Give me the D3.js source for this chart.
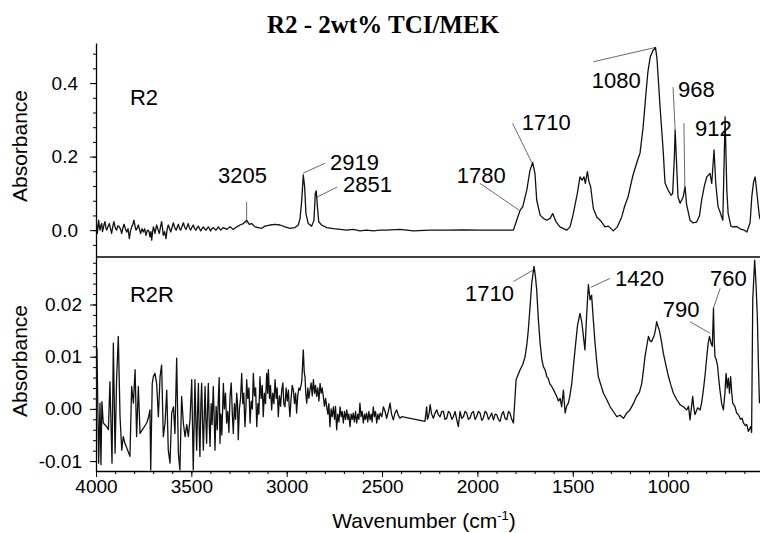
<!DOCTYPE html>
<html><head><meta charset="utf-8">
<script src="https://cdn.jsdelivr.net/npm/d3@7"></script>
<style>body{margin:0;background:#fff}</style>
</head><body>
<svg id="chart" width="760" height="533"></svg>
<script>
const title = "R2 - 2wt% TCI/MEK";
const panelNames = ["R2", "R2R"];
const xTickValues = [4000, 3500, 3000, 2500, 2000, 1500, 1000];
const r2TickValues = [0.0, 0.2, 0.4];
const r2rTickValues = [-0.01, 0.0, 0.01, 0.02];

// R2 spectrum: [wavenumber, absorbance]
const r2Spectrum = [[4000,0.032],[3996,0.010],[3993,-0.009],[3989,0.012],[3986,0.027],[3982,0.008],[3979,0],[3975,0.012],[3970,0.018],[3966,-0.004],[3962,0.005],[3958,0.015],[3953,0.023],[3948,0.006],[3944,0],[3937,0.010],[3930,0.018],[3924,0.004],[3918,-0.009],[3912,0.010],[3906,0.023],[3899,0.006],[3892,0],[3885,0.012],[3878,0.009],[3871,0.002],[3865,-0.009],[3859,0.006],[3853,0.016],[3846,0.004],[3839,-0.005],[3832,0.004],[3825,-0.023],[3819,-0.002],[3813,0.009],[3807,0.015],[3801,0.027],[3795,0.010],[3790,0],[3784,0.006],[3778,0.014],[3772,0.002],[3766,-0.009],[3759,0.004],[3752,-0.005],[3745,0.004],[3738,-0.014],[3732,-0.002],[3726,0],[3721,-0.006],[3717,-0.018],[3712,-0.004],[3708,-0.027],[3703,-0.004],[3699,0.009],[3695,0.002],[3691,-0.009],[3686,0.004],[3682,0.014],[3675,0.002],[3668,-0.009],[3662,0.008],[3656,0.023],[3651,0.004],[3647,-0.014],[3640,-0.004],[3633,-0.023],[3627,0.002],[3621,0.014],[3614,0.004],[3608,-0.005],[3601,0.008],[3594,0.02],[3587,0.006],[3580,0],[3574,0.008],[3568,0.016],[3562,0.004],[3556,0],[3549,0.010],[3542,0.02],[3535,0.008],[3528,0.002],[3522,0.010],[3516,0.018],[3510,0.006],[3504,0],[3497,0.008],[3490,0.014],[3483,0.004],[3476,0],[3470,0.006],[3463,0.011],[3457,0.004],[3451,-0.002],[3444,0.004],[3437,0.009],[3430,0.003],[3423,0],[3417,0.005],[3411,0.009],[3405,0.004],[3399,-0.002],[3392,0.004],[3385,0.007],[3378,0.003],[3371,0],[3364,0.005],[3358,0.009],[3352,0.004],[3346,0],[3339,0.004],[3332,0.007],[3315,0.002],[3297,0.009],[3280,0.002],[3262,0.009],[3245,0.014],[3227,0.018],[3210,0.027],[3196,0.016],[3184,0.018],[3166,0.009],[3149,0.007],[3131,0.005],[3114,0.011],[3088,0.014],[3061,0.016],[3035,0.014],[3009,0.009],[2983,0.005],[2956,0.007],[2939,0.014],[2930,0.032],[2921,0.082],[2913,0.150],[2906,0.118],[2899,0.045],[2887,0.018],[2869,0.011],[2857,0.027],[2850,0.100],[2845,0.107],[2839,0.064],[2832,0.023],[2817,0.014],[2790,0.007],[2755,0.004],[2720,0.002],[2685,0],[2651,0.002],[2616,-0.002],[2581,0],[2546,-0.002],[2511,0],[2476,0],[2406,0.002],[2336,-0.002],[2248,0],[2161,0],[2073,0.001],[1986,0],[1899,0],[1811,0],[1794,0.027],[1776,0.054],[1762,0.064],[1741,0.109],[1724,0.163],[1710,0.184],[1698,0.154],[1689,0.082],[1671,0.041],[1654,0.032],[1636,0.027],[1619,0.032],[1605,0.045],[1588,0.023],[1567,0.009],[1532,0],[1514,0.009],[1497,0.045],[1476,0.100],[1462,0.145],[1451,0.136],[1441,0.145],[1434,0.127],[1423,0.159],[1415,0.132],[1406,0.118],[1392,0.059],[1374,0.036],[1353,0.025],[1331,0.009],[1313,0.011],[1287,-0.002],[1266,0.009],[1243,0.036],[1228,0.065],[1210,0.09],[1184,0.15],[1160,0.19],[1147,0.21],[1131,0.28],[1118,0.36],[1106,0.43],[1094,0.47],[1080,0.488],[1066,0.497],[1058,0.465],[1042,0.335],[1026,0.218],[1016,0.128],[1000,0.109],[984,0.095],[976,0.1],[967,0.2],[963,0.272],[957,0.2],[948,0.09],[937,0.073],[921,0.09],[911,0.118],[903,0.07],[885,0.027],[870,0.02],[850,0.022],[835,0.04],[824,0.082],[810,0.12],[797,0.145],[780,0.154],[771,0.127],[759,0.218],[750,0.127],[738,0.064],[728,0.05],[713,0.027],[701,0.308],[692,0.109],[685,0.045],[670,0.01],[659,0.009],[640,0.01],[620,0.003],[600,0.0],[587,-0.005],[570,0.02],[561,0.091],[552,0.13],[544,0.145],[538,0.12],[530,0.08],[523,0.045],[518,0.03]];

// R2R spectrum: [wavenumber, absorbance]
const r2rSpectrum = [[4000,-0.0027],[3995,0.0116],[3986,-0.0104],[3979,0.0011],[3974,-0.0107],[3969,0.0014],[3962,-0.0027],[3944,-0.0034],[3935,-0.004],[3927,0.0052],[3916,-0.0104],[3909,0.0126],[3900,-0.0085],[3892,0.0056],[3883,0.0139],[3874,-0.0015],[3865,-0.0079],[3857,-0.0053],[3848,-0.0066],[3822,-0.0091],[3813,0.0043],[3804,0.0011],[3795,0.0075],[3787,-0.0053],[3778,0.0043],[3769,-0.0047],[3734,-0.0027],[3726,-0.0018],[3717,-0.0002],[3713,-0.0117],[3705,0.0049],[3699,0.0062],[3691,0.0068],[3682,0.0049],[3673,-0.0015],[3664,0.0062],[3656,0.0084],[3647,-0.0053],[3638,-0.0027],[3629,0.0036],[3621,-0.0079],[3612,-0.0104],[3603,-0.0008],[3594,0.0004],[3586,-0.0047],[3577,0.0097],[3568,-0.0085],[3560,-0.0117],[3551,0.0024],[3542,-0.0027],[3533,-0.0053],[3524,-0.0030],[3516,-0.0053],[3507,-0.0020],[3498,0.0056],[3490,-0.0117],[3481,0.0056],[3476,-0.0030],[3472,-0.0079],[3467,0.0000],[3463,0.0049],[3459,-0.0040],[3455,-0.0091],[3450,0.0010],[3446,0.0049],[3441,-0.0030],[3437,-0.0079],[3432,-0.0010],[3428,0.0043],[3424,-0.0020],[3420,-0.0066],[3415,0.0000],[3411,0.0049],[3406,-0.0030],[3402,-0.0072],[3396,0.0010],[3391,-0.0030],[3385,0.0043],[3380,-0.0020],[3376,-0.0079],[3370,0.0005],[3364,-0.0040],[3358,0.0024],[3354,0.0060],[3350,-0.0066],[3345,-0.0010],[3340,-0.0050],[3332,0.0049],[3327,0.0000],[3321,0.0030],[3315,-0.0027],[3309,-0.0005],[3303,-0.0045],[3297,0.0024],[3291,0.0050],[3285,-0.0010],[3280,-0.0047],[3274,0.0010],[3268,-0.0020],[3262,0.0030],[3258,0.0010],[3254,-0.0059],[3248,0.0000],[3242,0.0020],[3236,0.0068],[3230,0.0010],[3225,0.0030],[3219,-0.0034],[3214,0.0000],[3210,0.0056],[3204,0.0020],[3198,0.0040],[3192,-0.0027],[3186,0.0015],[3180,0.0000],[3175,0.0068],[3169,0.0025],[3163,0.0040],[3157,-0.0034],[3151,0.0010],[3146,-0.0010],[3140,0.0062],[3134,0.0020],[3128,0.0045],[3123,-0.0015],[3117,0.0030],[3111,0.0010],[3105,0.0068],[3100,0.0030],[3096,0.0075],[3090,0.0020],[3085,0.0045],[3079,-0.0002],[3073,0.0030],[3067,0.0010],[3061,0.0056],[3055,0.0020],[3050,0.0040],[3044,-0.0015],[3038,0.0025],[3032,0.0005],[3026,0.0036],[3020,0.0050],[3015,0.0010],[3009,0.0004],[3003,0.0040],[2997,0.0015],[2991,0.0036],[2987,0.0005],[2983,-0.0015],[2977,0.0020],[2971,0.0045],[2965,0.0036],[2959,0.0010],[2953,0.0030],[2948,-0.0008],[2942,0.0025],[2936,0.0040],[2930,0.0036],[2921,0.0052],[2913,0.0113],[2908,0.0070],[2904,0.0062],[2900,0.0030],[2895,0.0011],[2889,0.0040],[2884,0.0020],[2878,0.0036],[2872,0.0050],[2866,0.0025],[2860,0.0056],[2854,0.0030],[2849,0.0045],[2843,0.0024],[2837,0.0040],[2831,0.0015],[2825,0.0049],[2819,0.0030],[2814,0.0040],[2808,0.0024],[2802,0.0005],[2796,0.0020],[2790,0.0004],[2784,-0.0010],[2779,0.0010],[2773,-0.0034],[2767,0.0000],[2761,-0.0015],[2755,0.0004],[2749,-0.0020],[2744,0.0005],[2738,-0.004],[2732,-0.0010],[2726,-0.0025],[2720,0.0004],[2714,-0.0015],[2709,-0.0005],[2703,-0.0027],[2697,-0.0005],[2691,-0.0020],[2685,-0.0002],[2679,-0.0020],[2674,-0.0010],[2668,-0.0034],[2662,-0.0010],[2656,-0.0020],[2651,-0.0008],[2645,-0.0025],[2639,-0.0005],[2633,-0.0027],[2627,-0.0010],[2621,-0.0020],[2616,0.0011],[2610,-0.0015],[2604,-0.0005],[2598,-0.0027],[2592,-0.0010],[2587,-0.0020],[2581,-0.0008],[2575,-0.0025],[2569,-0.0005],[2563,-0.0021],[2557,-0.0010],[2552,-0.0025],[2546,0.0004],[2540,-0.0015],[2534,-0.0005],[2528,-0.0027],[2522,-0.0010],[2516,-0.0020],[2510,-0.0008],[2501,-0.0015],[2493,0.0004],[2484,-0.0005],[2476,-0.0018],[2467,-0.0005],[2458,0.0011],[2450,-0.0010],[2441,-0.0021],[2432,-0.0008],[2423,-0.0002],[2415,-0.0012],[2406,-0.0018],[2397,-0.0015],[2275,-0.0024],[2266,0.0004],[2262,-0.0020],[2257,-0.0015],[2252,-0.0005],[2248,0.0008],[2240,-0.0010],[2231,-0.0018],[2222,-0.0008],[2213,-0.0002],[2204,-0.0012],[2196,-0.0015],[2187,-0.0005],[2178,-0.0005],[2170,-0.0020],[2161,-0.0018],[2152,-0.0005],[2143,-0.0008],[2134,-0.0020],[2126,-0.0015],[2117,-0.0005],[2108,-0.0021],[2100,-0.0034],[2091,-0.0005],[2082,-0.0018],[2073,-0.0015],[2065,-0.0005],[2056,-0.0008],[2047,-0.0020],[2039,-0.0018],[2030,-0.0008],[2021,-0.0005],[2012,-0.0020],[2004,-0.0015],[1995,-0.0005],[1986,-0.0008],[1977,-0.0022],[1969,-0.0018],[1960,-0.0005],[1951,-0.0008],[1942,-0.0020],[1934,-0.0015],[1925,-0.0008],[1916,-0.0021],[1907,-0.0010],[1899,-0.0011],[1890,-0.0020],[1881,-0.0024],[1872,-0.0010],[1864,-0.0005],[1855,-0.0018],[1846,-0.0021],[1837,-0.0005],[1829,-0.0008],[1820,-0.0020],[1811,-0.0027],[1797,0.0056],[1776,0.0075],[1762,0.0085],[1750,0.01],[1740,0.0125],[1733,0.0151],[1724,0.0195],[1715,0.0241],[1703,0.0273],[1696,0.0255],[1689,0.0228],[1680,0.0170],[1671,0.0126],[1662,0.0095],[1654,0.0081],[1645,0.0075],[1636,0.0062],[1628,0.0058],[1620,0.0048],[1610,0.0043],[1600,0.0036],[1592,0.0030],[1584,0.0024],[1575,0.0015],[1566,0.0020],[1558,0.0004],[1549,0.0036],[1540,-0.0008],[1532,0.0005],[1523,0.0011],[1515,0.0025],[1505,0.0049],[1497,0.0080],[1488,0.0113],[1475,0.0160],[1462,0.0183],[1452,0.0165],[1444,0.0139],[1436,0.0113],[1427,0.0180],[1418,0.0238],[1409,0.0209],[1401,0.0218],[1392,0.0170],[1383,0.0126],[1374,0.0090],[1366,0.0062],[1352,0.0045],[1339,0.003],[1322,0.0018],[1304,0.0004],[1287,-0.0005],[1269,-0.0015],[1252,-0.0012],[1234,-0.0018],[1217,-0.0008],[1200,-0.0002],[1182,0.0010],[1165,0.0024],[1150,0.0032],[1138,0.0049],[1130,0.0072],[1121,0.01],[1112,0.0120],[1103,0.0139],[1094,0.0130],[1086,0.0129],[1080,0.0135],[1074,0.0139],[1067,0.0150],[1060,0.0167],[1053,0.0158],[1046,0.0151],[1035,0.0130],[1025,0.0107],[1012,0.0085],[998,0.0062],[985,0.0045],[972,0.003],[955,0.0018],[937,0.0008],[920,0.0004],[902,-0.0002],[893,0.0005],[885,-0.0021],[871,0.0024],[865,0.0002],[859,-0.0011],[845,0.0002],[832,-0.0002],[824,0.0012],[815,0.0036],[806,0.0065],[797,0.01],[790,0.0125],[783,0.0139],[775,0.0126],[768,0.0120],[762,0.0193],[758,0.0130],[754,0.01],[748,0.0095],[741,0.0084],[735,0.0060],[728,0.0036],[719,0.0010],[710,-0.0002],[702,0.0030],[696,0.0068],[690,0.0040],[684,0.0059],[678,0.0030],[672,0.0062],[666,0.0030],[661,0.0011],[650,0.0005],[640,-0.0008],[630,-0.0012],[620,-0.0020],[612,-0.0018],[605,-0.0027],[595,-0.0032],[587,-0.0030],[579,-0.0043],[572,-0.0038],[567,-0.0034],[562,-0.0045],[556,0.0209],[546,0.0285],[539,0.0240],[532,0.0177],[526,0.0080],[521,0.0011]];

// Peak annotations: label, text anchor (wavenumber, absorbance), leader from/to
const r2Peaks = [
  {label:"3205", t:[3360,0.128], a:[3210,0.077], b:[3210,0.018]},
  {label:"2919", t:[2773,0.163], a:[2799,0.182], b:[2914,0.155]},
  {label:"2851", t:[2705,0.103], a:[2736,0.117], b:[2841,0.090]},
  {label:"1780", t:[2108,0.128], a:[1986,0.127], b:[1780,0.054]},
  {label:"1710", t:[1767,0.272], a:[1815,0.290], b:[1715,0.184]},
  {label:"1080", t:[1400,0.386], a:[1392,0.458], b:[1066,0.497]},
  {label:"968",  t:[948,0.363],  a:[974,0.389],  b:[963,0.272]},
  {label:"912",  t:[859,0.256],  a:[917,0.291],  b:[912,0.117]}
];
const r2rPeaks = [
  {label:"1710", t:[2065,0.0206], a:[1811,0.0244], b:[1707,0.0266]},
  {label:"1420", t:[1278,0.0236], a:[1304,0.0250], b:[1405,0.0233]},
  {label:"790",  t:[1028,0.0177], a:[885,0.0167],  b:[780,0.0145]},
  {label:"760",  t:[780,0.0236],  a:[727,0.0231],  b:[762,0.0193]}
];
const panelLabelPos = [[3822,0.34],[3822,0.0205]];

const svg = d3.select("#chart");
const sans = "'Liberation Sans', Arial, Helvetica, sans-serif";

const x = d3.scaleLinear().domain([4000, 518]).range([96, 760]);
const yTop = d3.scaleLinear().domain([-0.073, 0.509]).range([257, 43]);
const yBot = d3.scaleLinear().domain([-0.0119, 0.0291]).range([471, 257]);

const defs = svg.append("defs");
defs.append("clipPath").attr("id","clipTop").append("rect").attr("x",96).attr("y",43).attr("width",664).attr("height",214);
defs.append("clipPath").attr("id","clipBot").append("rect").attr("x",96).attr("y",257).attr("width",664).attr("height",214);

// Title
svg.append("text").attr("x",383).attr("y",33).attr("text-anchor","middle")
  .style("font-family","'Liberation Serif','Times New Roman',serif").style("font-weight","bold").style("font-size","25px")
  .text(title);

function styleAxis(g){
  g.selectAll("path.domain").attr("stroke","#000").attr("stroke-width",1.3);
  g.selectAll(".tick line").attr("stroke","#000").attr("stroke-width",1);
  g.selectAll("text").style("font-family",sans).style("font-size","19px").attr("fill","#000");
}
const fmt1 = v => d3.format(".1f")(v).replace("\u2212","-");
const fmt2 = v => d3.format(".2f")(v).replace("\u2212","-");

// Left axes
const gTopAxis = svg.append("g").attr("transform","translate(96,0)")
  .call(d3.axisLeft(yTop).tickValues(r2TickValues).tickSize(6).tickSizeOuter(0).tickPadding(12).tickFormat(fmt1));
styleAxis(gTopAxis);
svg.append("g").attr("transform","translate(96,0)")
  .call(d3.axisLeft(yTop).tickValues(d3.range(-0.04, 0.50, 0.04)).tickSize(3).tickFormat(""))
  .call(g=>{g.select(".domain").remove(); styleAxis(g);});

const gBotAxis = svg.append("g").attr("transform","translate(96,0)")
  .call(d3.axisLeft(yBot).tickValues(r2rTickValues).tickSize(6).tickSizeOuter(0).tickPadding(8).tickFormat(fmt2));
styleAxis(gBotAxis);
svg.append("g").attr("transform","translate(96,0)")
  .call(d3.axisLeft(yBot).tickValues(d3.range(-0.010, 0.0285, 0.002)).tickSize(3).tickFormat(""))
  .call(g=>{g.select(".domain").remove(); styleAxis(g);});

// Bottom x axis
const gX = svg.append("g").attr("transform","translate(0,471)")
  .call(d3.axisBottom(x).tickValues(xTickValues).tickSize(6).tickSizeOuter(0).tickPadding(3).tickFormat(d3.format("d")));
styleAxis(gX);
svg.append("g").attr("transform","translate(0,471)")
  .call(d3.axisBottom(x).tickValues(d3.range(600, 4001, 100)).tickSize(3).tickFormat(""))
  .call(g=>{g.select(".domain").remove(); styleAxis(g);});

// Panel divider (top panel's base line)
svg.append("line").attr("x1",x(4000)).attr("x2",x(518)).attr("y1",yTop.range()[0]).attr("y2",yTop.range()[0])
  .attr("stroke","#000").attr("stroke-width",1.5);

// Axis titles
svg.append("text").attr("transform","translate(27,146) rotate(-90)").attr("text-anchor","middle")
  .style("font-family",sans).style("font-size","21px").text("Absorbance");
svg.append("text").attr("transform","translate(27,361) rotate(-90)").attr("text-anchor","middle")
  .style("font-family",sans).style("font-size","21px").text("Absorbance");
const xl = svg.append("text").attr("x",424).attr("y",528).attr("text-anchor","middle")
  .style("font-family",sans).style("font-size","21px");
xl.append("tspan").text("Wavenumber (cm");
xl.append("tspan").attr("dy",-8).style("font-size","13px").text("-1");
xl.append("tspan").attr("dy",8).text(")");

// Spectra
const lineTop = d3.line().x(d=>x(d[0])).y(d=>yTop(d[1]));
const lineBot = d3.line().x(d=>x(d[0])).y(d=>yBot(d[1]));
svg.append("path").datum(r2Spectrum).attr("clip-path","url(#clipTop)").attr("d",lineTop)
  .attr("fill","none").attr("stroke","#111").attr("stroke-width",1.3).attr("stroke-linejoin","round");
svg.append("path").datum(r2rSpectrum).attr("clip-path","url(#clipBot)").attr("d",lineBot)
  .attr("fill","none").attr("stroke","#111").attr("stroke-width",1.3).attr("stroke-linejoin","round");

// Annotations
function annotate(peaks, y){
  const g = svg.append("g");
  g.selectAll("line").data(peaks).join("line")
    .attr("x1",d=>x(d.a[0])).attr("y1",d=>y(d.a[1])).attr("x2",d=>x(d.b[0])).attr("y2",d=>y(d.b[1]))
    .attr("stroke","#444").attr("stroke-width",0.8);
  g.selectAll("text").data(peaks).join("text")
    .attr("x",d=>x(d.t[0])).attr("y",d=>y(d.t[1]))
    .style("font-family",sans).style("font-size","22px").attr("fill","#000").text(d=>d.label);
}
annotate(r2Peaks, yTop);
annotate(r2rPeaks, yBot);

// Panel labels
svg.append("text").attr("x",x(panelLabelPos[0][0])).attr("y",yTop(panelLabelPos[0][1]))
  .style("font-family",sans).style("font-size","22px").text(panelNames[0]);
svg.append("text").attr("x",x(panelLabelPos[1][0])).attr("y",yBot(panelLabelPos[1][1]))
  .style("font-family",sans).style("font-size","22px").text(panelNames[1]);
</script>
</body></html>
